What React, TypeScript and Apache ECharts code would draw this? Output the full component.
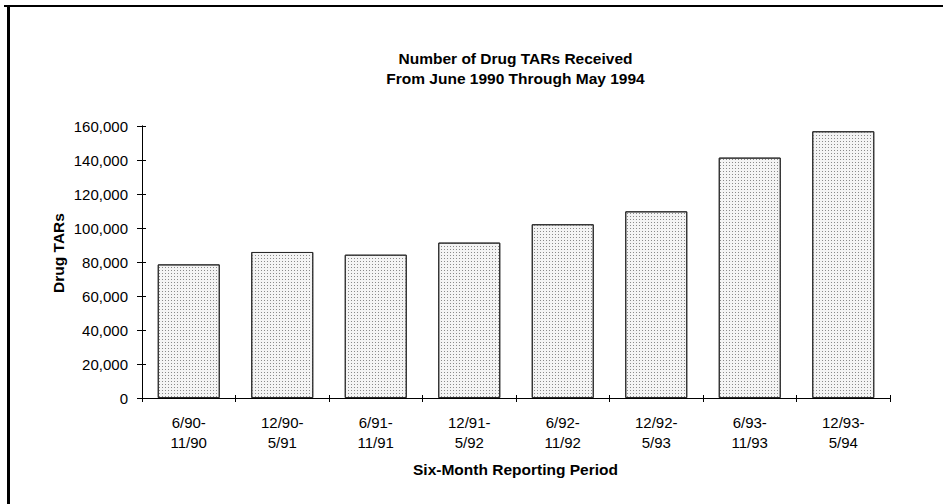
import React, { useEffect, useRef } from "react";
import * as echarts from "echarts";

const categories = [
  "6/90-\n11/90",
  "12/90-\n5/91",
  "6/91-\n11/91",
  "12/91-\n5/92",
  "6/92-\n11/92",
  "12/92-\n5/93",
  "6/93-\n11/93",
  "12/93-\n5/94",
];
const drugTARs = [78600, 85900, 84300, 91400, 102200, 109800, 141400, 156900];
const yTicks = { min: 0, max: 160000, interval: 20000 };
const titleLines = ["Number of Drug TARs Received", "From June 1990 Through May 1994"];
const yName = "Drug TARs";
const xName = "Six-Month Reporting Period";

const FONT = "'Liberation Sans', Arial, Helvetica, sans-serif";

export default function App() {
  const ref = useRef<HTMLDivElement>(null);
  useEffect(() => {
    if (!ref.current) return;
    const chart = echarts.init(ref.current, null, { renderer: "svg" });
    const gridBox = { left: 142, right: 53, top: 126, bottom: 106 };
    const baseX = {
      type: "category" as const,
      data: categories,
      position: "bottom" as const,
      boundaryGap: true,
      axisLine: { show: true, lineStyle: { color: "#000", width: 1 } },
    };
    const baseY = {
      type: "value" as const,
      position: "left" as const,
      min: yTicks.min,
      max: yTicks.max,
      interval: yTicks.interval,
      splitLine: { show: false },
      axisLine: { show: true, lineStyle: { color: "#000", width: 1 } },
    };
    chart.setOption({
      animation: false,
      backgroundColor: "#fff",
      title: {
        text: titleLines.join("\n"),
        left: 515.5,
        top: 48,
        textAlign: "center",
        padding: 0,
        textStyle: {
          fontFamily: FONT,
          fontSize: 15.5,
          fontWeight: "bold",
          color: "#000",
          lineHeight: 20,
        },
      },
      grid: { ...gridBox, containLabel: false },
      xAxis: [
        {
          ...baseX,
          axisTick: { show: true, inside: false, length: 4, lineStyle: { color: "#000" } },
          axisLabel: {
            fontFamily: FONT,
            fontSize: 15,
            color: "#000",
            lineHeight: 20,
            margin: 14,
            interval: 0,
          },
        },
        {
          ...baseX,
          axisTick: { show: true, inside: true, length: 3, lineStyle: { color: "#000" } },
          axisLabel: { show: false },
        },
      ],
      yAxis: [
        {
          ...baseY,
          axisTick: { show: true, inside: false, length: 5, lineStyle: { color: "#000" } },
          axisLabel: {
            fontFamily: FONT,
            fontSize: 15,
            color: "#000",
            margin: 14,
            formatter: (v: number) => v.toLocaleString("en-US"),
          },
        },
        {
          ...baseY,
          axisTick: { show: true, inside: true, length: 4, lineStyle: { color: "#000" } },
          axisLabel: { show: false },
        },
      ],
      series: [
        {
          type: "bar",
          xAxisIndex: 0,
          yAxisIndex: 0,
          data: drugTARs,
          barWidth: 62,
          itemStyle: {
            color: "#f4f4f4",
            borderColor: "#2a2a2a",
            borderWidth: 1,
            decal: {
              symbol: "rect",
              symbolSize: 1,
              dashArrayX: [1, 2],
              dashArrayY: [1, 2],
              color: "#8a8a8a",
              rotation: 0,
            },
          },
        },
      ],
      graphic: [
        {
          type: "text",
          x: 58,
          y: 253,
          rotation: Math.PI / 2,
          style: {
            text: yName,
            fontFamily: FONT,
            fontSize: 15.5,
            fontWeight: "bold",
            fill: "#000",
            align: "center",
            verticalAlign: "middle",
          },
        },
        {
          type: "text",
          x: 515.5,
          y: 469,
          style: {
            text: xName,
            fontFamily: FONT,
            fontSize: 15.5,
            fontWeight: "bold",
            fill: "#000",
            align: "center",
            verticalAlign: "middle",
          },
        },
        {
          type: "rect",
          shape: { x: 4, y: 5, width: 940, height: 2 },
          style: { fill: "#000" },
        },
        {
          type: "rect",
          shape: { x: 7, y: 5, width: 3, height: 499 },
          style: { fill: "#000" },
        },
      ],
    });
    return () => chart.dispose();
  }, []);
  return (
    <div
      ref={ref}
      style={{ position: "fixed", left: 0, top: 0, width: 943, height: 504 }}
    />
  );
}
